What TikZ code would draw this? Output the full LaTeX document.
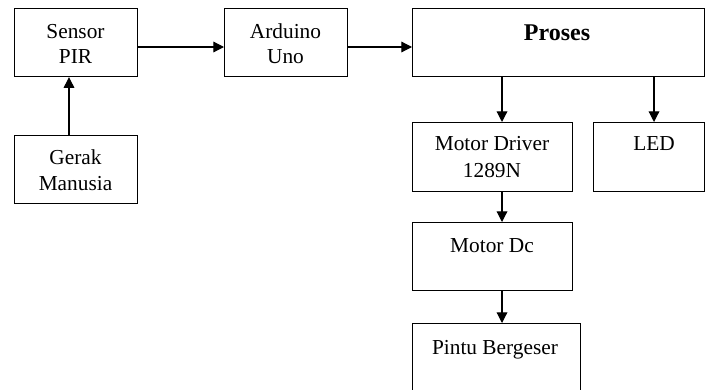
\documentclass[tikz,border=0pt]{standalone}
\usepackage{fontspec}
\setmainfont{Liberation Serif}
\usetikzlibrary{arrows.meta}
\tikzset{
  x=0.75pt, y=-0.75pt,
  block/.style={draw, line width=0.9pt, inner sep=0pt, anchor=north west},
  lbl/.style={anchor=base, inner sep=0pt, font=\fontsize{16}{19}\selectfont},
  flow/.style={line width=0.9pt, -{Triangle[length=8pt,width=8pt]}},
}
\begin{document}
\begin{tikzpicture}
\useasboundingbox[fill=white] (0,0) rectangle (706,389);

% boxes (width x height in px)
\node[block, minimum width=92.25pt, minimum height=51pt] (pir) at (14,8) {};
\node[block, minimum width=92.25pt, minimum height=51pt] (gerak) at (14,135) {};
\node[block, minimum width=92.25pt, minimum height=51pt] (uno) at (224,8) {};
\node[block, minimum width=219pt, minimum height=51pt] (proses) at (412,8) {};
\node[block, minimum width=120pt, minimum height=51.75pt] (driver) at (412,122) {};
\node[block, minimum width=83.25pt, minimum height=51.75pt] (led) at (593,122) {};
\node[block, minimum width=120pt, minimum height=51pt] (dc) at (412,222) {};
\node[block, minimum width=126pt, minimum height=60pt] (pintu) at (412,323) {};

% labels
\node[lbl] (pir-a) at (75.5,38) {Sensor};
\node[lbl] (pir-b) at (75.5,63) {PIR};
\node[lbl] (gerak-a) at (75.5,164) {Gerak};
\node[lbl] (gerak-b) at (75.5,190) {Manusia};
\node[lbl] (uno-a) at (285.5,38) {Arduino};
\node[lbl] (uno-b) at (285.5,63) {Uno};
\node[lbl, font=\fontsize{18}{21}\selectfont\bfseries] (proses-a) at (557,40) {Proses};
\node[lbl] (driver-a) at (492,150) {Motor Driver};
\node[lbl] (driver-b) at (492,177) {1289N};
\node[lbl] (led-a) at (654,150) {LED};
\node[lbl] (dc-a) at (492,252) {Motor Dc};
\node[lbl] (pintu-a) at (495,354) {Pintu Bergeser};

% connector columns
\coordinate (cg) at (69,0);
\coordinate (cl) at (502,0);
\coordinate (cr) at (654,0);
\coordinate (rowa) at (0,47);

% connectors
\draw[flow] (gerak.north -| cg) -- (pir.south -| cg);
\draw[flow] (pir.east |- rowa) -- (uno.west |- rowa);
\draw[flow] (uno.east |- rowa) -- (proses.west |- rowa);
\draw[flow] (proses.south -| cl) -- (driver.north -| cl);
\draw[flow] (proses.south -| cr) -- (led.north -| cr);
\draw[flow] (driver.south -| cl) -- (dc.north -| cl);
\draw[flow] (dc.south -| cl) -- (pintu.north -| cl);
\end{tikzpicture}
\end{document}
